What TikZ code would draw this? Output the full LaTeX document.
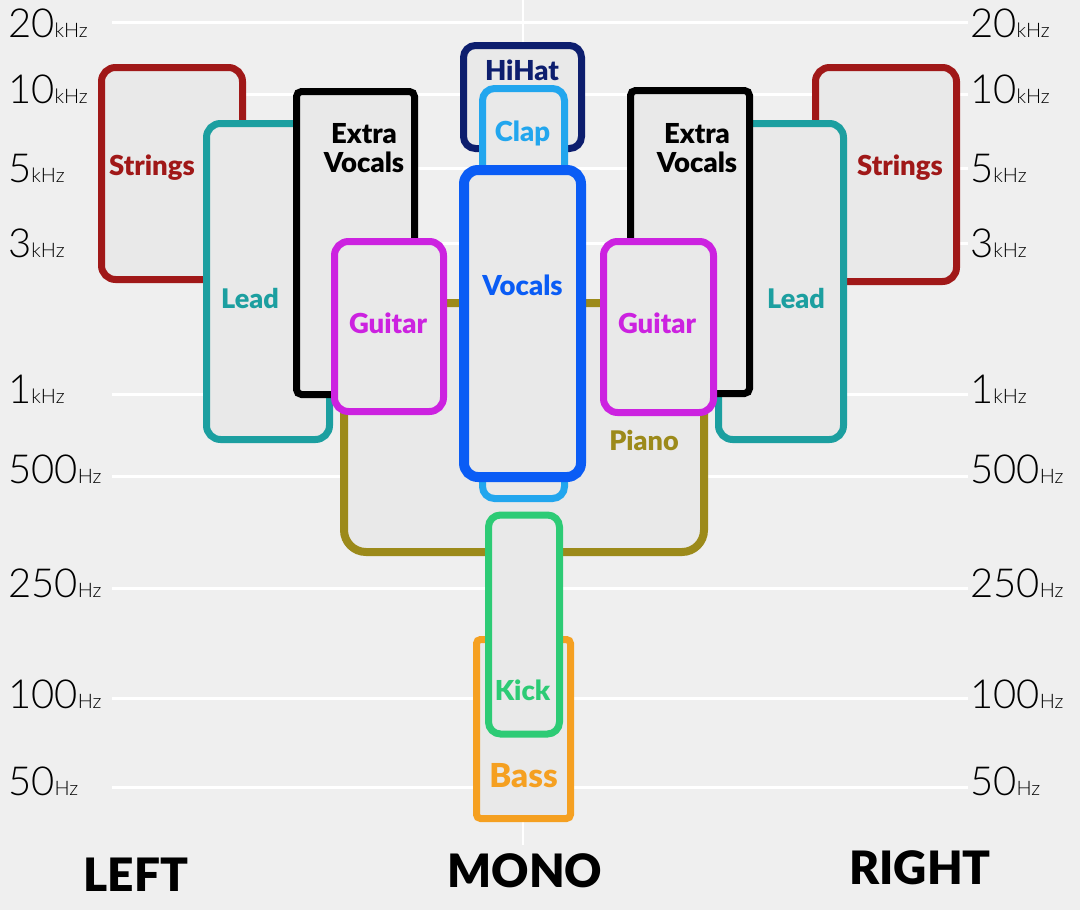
\documentclass[tikz,border=0pt]{standalone}
\usepackage{fontspec}
\setmainfont{Lato}
\newfontfamily\lathin{Lato Light}
\newfontfamily\laheavy{Lato Black}
\usetikzlibrary{shadows}
\definecolor{bg}{HTML}{EFEFEF}
\definecolor{boxfill}{HTML}{E9E9E9}
\definecolor{cstr}{HTML}{A01818}
\definecolor{clead}{HTML}{1C9FA0}
\definecolor{cgtr}{HTML}{CC22E0}
\definecolor{cpiano}{HTML}{9C8A1A}
\definecolor{chihat}{HTML}{0D1E6E}
\definecolor{cclap}{HTML}{22A6EE}
\definecolor{cvoc}{HTML}{0A5CF5}
\definecolor{ckick}{HTML}{2DCB75}
\definecolor{cbass}{HTML}{F5A021}
\newcommand\axlab[2]{{\fontsize{40}{40}\selectfont #1}{\fontsize{20}{20}\selectfont #2}}
\begin{document}
\begin{tikzpicture}[x=1pt,y=-1pt,
  box/.style={draw, rounded corners=14pt, line width=7pt, fill=boxfill, inner sep=0pt,
    drop shadow={shadow xshift=2pt, shadow yshift=-2pt, opacity=0.22}},
  lab/.style={font=\laheavy\fontsize{27.5}{30}\selectfont, inner sep=0pt, anchor=base},
  axl/.style={font=\lathin, inner sep=0pt, anchor=base west, text=black},
  side/.style={font=\laheavy\fontsize{46}{46}\selectfont, inner sep=0pt, anchor=base},
  grid/.style={white, line width=3pt}]
\useasboundingbox (0,0) rectangle (1080,910);
\fill[bg] (0,0) rectangle (1080,910);
% grid
\foreach \yy in {22,94,168,243,394,476,588,698,787}{
  \draw[grid] (112,\yy) -- (968,\yy);
}
\draw[white, line width=2.5pt] (523,0) -- (523,845);
% axis labels
\foreach \nm/\num/\unit/\yy in {a/20/kHz/37, b/10/kHz/103, c/5/kHz/182, d/3/kHz/257, e/1/kHz/403, f/500/Hz/483, g/250/Hz/597, h/100/Hz/708, i/50/Hz/795}{
  \node[axl] (L\nm) at (8,\yy) {\axlab{\num}{\unit}};
  \node[axl] (R\nm) at (970,\yy) {\axlab{\num}{\unit}};
}
% boxes
\node[box, draw=cstr, minimum width=141pt, minimum height=212pt] (strL) at (172,173.5) {};
\node[box, draw=cstr, minimum width=141pt, minimum height=214pt] (strR) at (886,174.5) {};
\node[box, draw=clead, minimum width=123pt, minimum height=316pt] (leadL) at (268,281.5) {};
\node[box, draw=clead, minimum width=125pt, minimum height=316pt] (leadR) at (781,281.5) {};
\node[box, draw=black, rounded corners=5pt, minimum width=118pt, minimum height=303pt] (xvL) at (355.5,243) {};
\node[box, draw=black, rounded corners=5pt, minimum width=119pt, minimum height=303pt] (xvR) at (690,242) {};
\node[box, draw=cpiano, line width=8pt, rounded corners=22pt, minimum width=360pt, minimum height=249pt] (piano) at (524,427.5) {};
\node[box, draw=cgtr, minimum width=109pt, minimum height=170pt] (gtL) at (389,326.5) {};
\node[box, draw=cgtr, minimum width=110pt, minimum height=171pt] (gtR) at (658.5,327) {};
\node[box, draw=chihat, rounded corners=12pt, minimum width=118pt, minimum height=103pt] (hihat) at (522.5,97) {};
\node[box, draw=cclap, rounded corners=12pt, minimum width=82pt, minimum height=410pt] (clap) at (523.5,293.5) {};
\node[box, draw=cvoc, line width=10pt, minimum width=117pt, minimum height=307pt] (voc) at (522.5,323.5) {};
\node[box, draw=cbass, rounded corners=4pt, minimum width=94pt, minimum height=179pt] (bass) at (523.5,729) {};
\node[box, draw=ckick, rounded corners=12pt, minimum width=71pt, minimum height=219pt] (kick) at (524,624.5) {};
% labels
\node[lab, text=cstr] (tstrL) at (152,175) {Strings};
\node[lab, text=cstr] (tstrR) at (900,175) {Strings};
\node[lab, text=clead, font=\laheavy\fontsize{27}{30}\selectfont] (tleadL) at (250,308) {Lead};
\node[lab, text=clead, font=\laheavy\fontsize{27}{30}\selectfont] (tleadR) at (796,308) {Lead};
\node[lab, text=black] (txvL1) at (364,143) {Extra};
\node[lab, text=black] (txvL2) at (364,172) {Vocals};
\node[lab, text=black] (txvR1) at (697,143) {Extra};
\node[lab, text=black] (txvR2) at (697,172) {Vocals};
\node[lab, text=cgtr] (tgtL) at (388,333) {Guitar};
\node[lab, text=cgtr] (tgtR) at (657,333) {Guitar};
\node[lab, text=cvoc] (tvoc) at (522.5,295) {Vocals};
\node[lab, text=chihat] (thihat) at (522,80) {HiHat};
\node[lab, text=cclap] (tclap) at (522.5,141) {Clap};
\node[lab, text=cpiano, font=\laheavy\fontsize{27}{30}\selectfont] (tpiano) at (644,450) {Piano};
\node[lab, text=ckick] (tkick) at (522.5,700) {Kick};
\node[lab, text=cbass, font=\laheavy\fontsize{33}{36}\selectfont] (tbass) at (523.5,787) {Bass};
% bottom
\node[side] (left) at (136,891) {LEFT};
\node[side] (mono) at (525,887) {MONO};
\node[side] (right) at (920,884) {RIGHT};
\end{tikzpicture}
\end{document}
